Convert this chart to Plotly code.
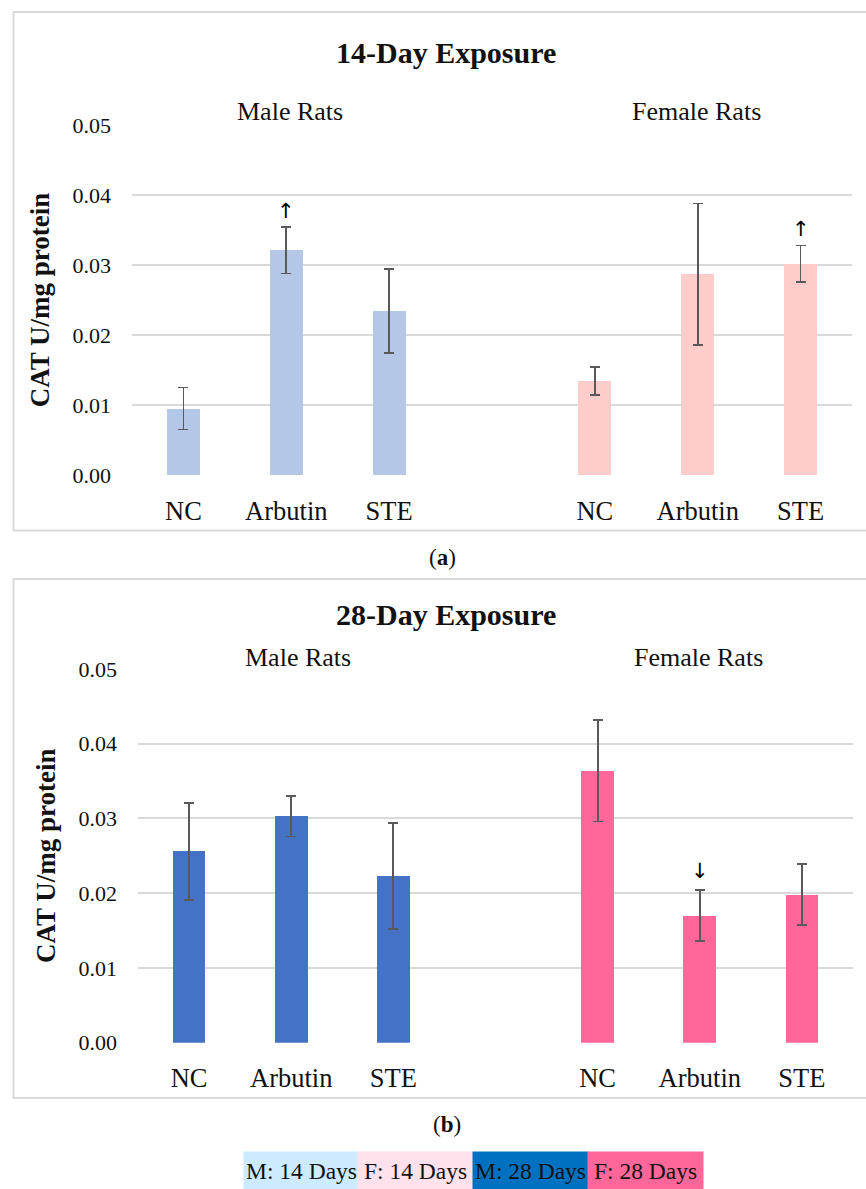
import plotly.graph_objects as go

W, H = 866, 1189

# ---- data ----
categories = ["NC", "Arbutin", "STE"]
cat_pos_male = [0, 1, 2]
cat_pos_female = [4, 5, 6]

male14 = [0.0095, 0.0321, 0.0234]
male14_err = [0.0030, 0.0033, 0.0060]
female14 = [0.0134, 0.0287, 0.0302]
female14_err = [0.0020, 0.0101, 0.0026]

male28 = [0.0256, 0.0303, 0.0223]
male28_err = [0.0065, 0.0027, 0.0071]
female28 = [0.0364, 0.0170, 0.0198]
female28_err = [0.0068, 0.0034, 0.0041]

y_ticks = [0.00, 0.01, 0.02, 0.03, 0.04, 0.05]

FONT = "Liberation Serif"
C_M14, C_F14 = "#B4C7E7", "#FFCCCC"
C_M28, C_F28 = "#4472C4", "#FF6699"
ERR = "#595959"
GRID = "#D9D9D9"


def px(x):
    return x / W


def py(y):
    return 1 - y / H


fig = go.Figure()


def bars(x, y, e, color, xa, ya):
    fig.add_trace(go.Bar(
        x=x, y=y, width=0.32, marker=dict(color=color, line=dict(width=0)),
        error_y=dict(type="data", array=e, visible=True, color=ERR,
                     thickness=1.8, width=5),
        xaxis=xa, yaxis=ya, showlegend=False, hoverinfo="skip"))


bars(cat_pos_male, male14, male14_err, C_M14, "x", "y")
bars(cat_pos_female, female14, female14_err, C_F14, "x", "y")
bars(cat_pos_male, male28, male28_err, C_M28, "x2", "y2")
bars(cat_pos_female, female28, female28_err, C_F28, "x2", "y2")

xcommon = dict(range=[-0.5, 6.5], tickmode="array",
               tickvals=cat_pos_male + cat_pos_female,
               ticktext=categories + categories,
               showgrid=False, zeroline=False, showline=False,
               ticks="", ticklabelstandoff=17, automargin=False,
               tickfont=dict(family=FONT, size=26.5, color="#111111"))
ycommon = dict(range=[0, 0.05], tickmode="array", tickvals=y_ticks,
               tickformat=".2f", showgrid=True, gridcolor=GRID, gridwidth=1.6,
               zeroline=False, showline=False, ticks="",
               ticklabelstandoff=20, automargin=False,
               tickfont=dict(family=FONT, size=22, color="#111111"),
               title=dict(text="<b>CAT U/mg protein</b>",
                          font=dict(family=FONT, size=27, color="#111111"),
                          standoff=15))

fig.update_layout(
    template="none",
    width=W, height=H, margin=dict(l=0, r=0, t=0, b=0, pad=0, autoexpand=False),
    paper_bgcolor="white", plot_bgcolor="white", bargap=0,
    xaxis=dict(domain=[px(132), px(852)], anchor="y", **xcommon),
    yaxis=dict(domain=[py(475), py(125)], anchor="x", **ycommon),
    xaxis2=dict(domain=[px(138), px(853)], anchor="y2", **xcommon),
    yaxis2=dict(domain=[py(1042.7), py(669)], anchor="x2", **ycommon),
)

shapes = []
# panel borders
for (y0, y1) in [(12, 530.5), (579, 1098)]:
    shapes.append(dict(type="rect", xref="paper", yref="paper",
                       x0=px(13.5), x1=px(880), y0=py(y1), y1=py(y0),
                       line=dict(color=GRID, width=2), fillcolor="rgba(0,0,0,0)",
                       layer="below"))
fig.update_layout(shapes=shapes)

ann = []


def text(x, y, t, size=26, color="#111111", **kw):
    ann.append(dict(x=px(x), y=py(y), xref="paper", yref="paper", text=t,
                    showarrow=False, xanchor="center", yanchor="middle",
                    font=dict(family=FONT, size=size, color=color), **kw))


# panel titles
text(446, 52, "<b>14-Day Exposure</b>", size=30)
text(446, 614, "<b>28-Day Exposure</b>", size=30)
# group labels
text(290, 111, "Male Rats")
text(696, 111, "Female Rats")
text(298, 657, "Male Rats")
text(698, 657, "Female Rats")
# captions
text(443, 557, "(<b>a</b>)", size=23)
text(447, 1124, "(<b>b</b>)", size=23)

# significance arrows (data coords)
arrow_font = dict(family="DejaVu Sans", size=21, color="#000000")
ann.append(dict(x=1, y=male14[1] + male14_err[1], xref="x", yref="y", text="↑",
                showarrow=False, yanchor="bottom", yshift=2, font=arrow_font))
ann.append(dict(x=6, y=female14[2] + female14_err[2], xref="x", yref="y", text="↑",
                showarrow=False, yanchor="bottom", yshift=2, font=arrow_font))
ann.append(dict(x=5, y=female28[1] + female28_err[1], xref="x2", yref="y2", text="↓",
                showarrow=False, yanchor="bottom", yshift=5, font=arrow_font))

# legend boxes
legend_labels = ["M: 14 Days", "F: 14 Days", "M: 28 Days", "F: 28 Days"]
legend_colors = ["#CCEBFF", "#FFE1EC", "#0070C0", "#FF6699"]
lx = [301, 415.5, 530.5, 645.5]
for lab, col, x in zip(legend_labels, legend_colors, lx):
    ann.append(dict(x=px(x), y=py(1170.5), xref="paper", yref="paper",
                    text=lab, showarrow=False, xanchor="center", yanchor="middle",
                    bgcolor=col, width=115, height=37, borderpad=0,
                    font=dict(family=FONT, size=23.5, color="#111111")))

fig.update_layout(annotations=ann)

fig.write_html("out.html",
               config={"displayModeBar": False},
               post_script="document.body.style.margin='0';"
                           "document.body.style.overflow='hidden';")
